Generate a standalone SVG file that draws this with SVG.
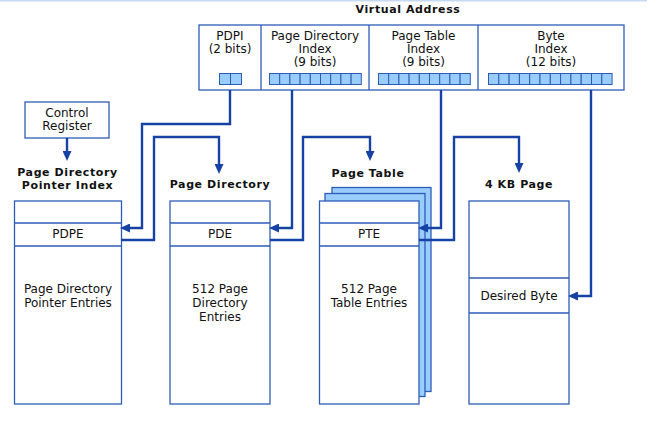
<svg xmlns="http://www.w3.org/2000/svg" width="663" height="421" viewBox="0 0 663 421">
<style>
.t{font-family:"DejaVu Sans","Verdana",sans-serif;font-size:12px;fill:#111;text-anchor:middle}
.b{font-family:"DejaVu Sans","Verdana",sans-serif;font-size:11px;letter-spacing:0.6px;font-weight:bold;fill:#111;text-anchor:middle}
.box{fill:#fff;stroke:#2d5cb8;stroke-width:1.3}
.pg{fill:#99ccff;stroke:#2d5cb8;stroke-width:1.3}
.bit{fill:#99ccff;stroke:#2d5cb8;stroke-width:1}
.ln{stroke:#2d5cb8;stroke-width:1.3;fill:none}
.c{fill:none;stroke:#1642a4;stroke-width:2.4;marker-end:url(#ah)}
</style>
<defs>
<marker id="ah" markerUnits="userSpaceOnUse" viewBox="0 0 10 9" refX="0" refY="4.5" markerWidth="10" markerHeight="9" orient="auto">
<path d="M0,0 L10,4.5 L0,9 z" fill="#1642a4"/>
</marker>
</defs>
<rect x="0" y="0" width="647" height="1.5" fill="#c6daf2"/>

<g id="virtual-address">
<text class="b" x="408" y="13">Virtual Address</text>
<rect class="box" x="199" y="25" width="425" height="65"/>
<line class="ln" x1="261" y1="25" x2="261" y2="90"/>
<line class="ln" x1="369" y1="25" x2="369" y2="90"/>
<line class="ln" x1="478" y1="25" x2="478" y2="90"/>
<text class="t" x="230" y="40">PDPI</text>
<text class="t" x="230" y="53">(2 bits)</text>
<text class="t" x="315" y="40">Page Directory</text>
<text class="t" x="315" y="53">Index</text>
<text class="t" x="315" y="66">(9 bits)</text>
<text class="t" x="423.5" y="40">Page Table</text>
<text class="t" x="423.5" y="53">Index</text>
<text class="t" x="423.5" y="66">(9 bits)</text>
<text class="t" x="551" y="40">Byte</text>
<text class="t" x="551" y="53">Index</text>
<text class="t" x="551" y="66">(12 bits)</text>
<g>
<rect class="bit" x="219.5" y="73.5" width="11" height="11"/>
<rect class="bit" x="230.5" y="73.5" width="11" height="11"/>
</g>
<g>
<rect class="bit" x="269.5" y="73.5" width="10.2" height="11"/>
<rect class="bit" x="279.7" y="73.5" width="10.2" height="11"/>
<rect class="bit" x="289.9" y="73.5" width="10.2" height="11"/>
<rect class="bit" x="300.1" y="73.5" width="10.2" height="11"/>
<rect class="bit" x="310.3" y="73.5" width="10.2" height="11"/>
<rect class="bit" x="320.5" y="73.5" width="10.2" height="11"/>
<rect class="bit" x="330.7" y="73.5" width="10.2" height="11"/>
<rect class="bit" x="340.9" y="73.5" width="10.2" height="11"/>
<rect class="bit" x="351.1" y="73.5" width="10.2" height="11"/>
</g>
<g>
<rect class="bit" x="378.5" y="73.5" width="10.2" height="11"/>
<rect class="bit" x="388.7" y="73.5" width="10.2" height="11"/>
<rect class="bit" x="398.9" y="73.5" width="10.2" height="11"/>
<rect class="bit" x="409.1" y="73.5" width="10.2" height="11"/>
<rect class="bit" x="419.3" y="73.5" width="10.2" height="11"/>
<rect class="bit" x="429.5" y="73.5" width="10.2" height="11"/>
<rect class="bit" x="439.7" y="73.5" width="10.2" height="11"/>
<rect class="bit" x="449.9" y="73.5" width="10.2" height="11"/>
<rect class="bit" x="460.1" y="73.5" width="10.2" height="11"/>
</g>
<g>
<rect class="bit" x="488.5" y="73.5" width="10.3" height="11"/>
<rect class="bit" x="498.8" y="73.5" width="10.3" height="11"/>
<rect class="bit" x="509.1" y="73.5" width="10.3" height="11"/>
<rect class="bit" x="519.4" y="73.5" width="10.3" height="11"/>
<rect class="bit" x="529.7" y="73.5" width="10.3" height="11"/>
<rect class="bit" x="540.0" y="73.5" width="10.3" height="11"/>
<rect class="bit" x="550.3" y="73.5" width="10.3" height="11"/>
<rect class="bit" x="560.6" y="73.5" width="10.3" height="11"/>
<rect class="bit" x="570.9" y="73.5" width="10.3" height="11"/>
<rect class="bit" x="581.2" y="73.5" width="10.3" height="11"/>
<rect class="bit" x="591.5" y="73.5" width="10.3" height="11"/>
<rect class="bit" x="601.8" y="73.5" width="10.3" height="11"/>
</g>
</g>

<g id="control-register">
<rect class="box" x="25" y="102" width="84" height="36"/>
<text class="t" x="67" y="117">Control</text>
<text class="t" x="67" y="130">Register</text>
</g>

<g id="pdp-table">
<text class="b" x="67.5" y="176">Page Directory</text>
<text class="b" x="67.5" y="189">Pointer Index</text>
<rect class="box" x="14.5" y="201" width="107" height="203"/>
<line class="ln" x1="14.5" y1="223" x2="121.5" y2="223"/>
<line class="ln" x1="14.5" y1="246" x2="121.5" y2="246"/>
<text class="t" x="68" y="238">PDPE</text>
<text class="t" x="68" y="293">Page Directory</text>
<text class="t" x="68" y="307">Pointer Entries</text>
</g>

<g id="page-directory">
<text class="b" x="220" y="188">Page Directory</text>
<rect class="box" x="170" y="201" width="100" height="203"/>
<line class="ln" x1="170" y1="223" x2="270" y2="223"/>
<line class="ln" x1="170" y1="246" x2="270" y2="246"/>
<text class="t" x="220" y="238">PDE</text>
<text class="t" x="220" y="293">512 Page</text>
<text class="t" x="220" y="307">Directory</text>
<text class="t" x="220" y="321">Entries</text>
</g>

<g id="page-table">
<text class="b" x="368" y="177">Page Table</text>
<rect class="pg" x="332" y="187.5" width="99" height="204"/>
<rect class="pg" x="325" y="193.5" width="100" height="203"/>
<rect class="box" x="319.5" y="201" width="99.5" height="203"/>
<line class="ln" x1="319.5" y1="223" x2="419" y2="223"/>
<line class="ln" x1="319.5" y1="246" x2="419" y2="246"/>
<text class="t" x="369" y="238">PTE</text>
<text class="t" x="369" y="293">512 Page</text>
<text class="t" x="369" y="307">Table Entries</text>
</g>

<g id="page-4kb">
<text class="b" x="519" y="188">4 KB Page</text>
<rect class="box" x="469" y="201" width="100" height="203"/>
<line class="ln" x1="469" y1="278" x2="569" y2="278"/>
<line class="ln" x1="469" y1="313" x2="569" y2="313"/>
<text class="t" x="519" y="300">Desired Byte</text>
</g>

<g id="connectors">
<path class="c" d="M67,138 V151"/>
<path class="c" d="M230,90 V124 H142 V228 H130"/>
<path class="c" d="M121,240 H154 V137 H219 V164"/>
<path class="c" d="M292,90 V228 H279"/>
<path class="c" d="M270,240 H303 V137 H370 V151"/>
<path class="c" d="M441,90 V228 H428"/>
<path class="c" d="M419,240 H454 V137 H519 V163"/>
<path class="c" d="M591,90 V296 H578"/>
</g>
</svg>
